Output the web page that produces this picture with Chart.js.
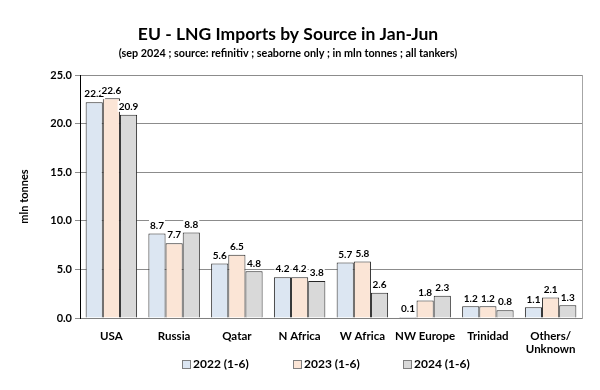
<!DOCTYPE html>
<html>
<head>
<meta charset="utf-8">
<script src="https://cdn.jsdelivr.net/npm/chart.js@4"></script>
<style>
  html, body { margin: 0; padding: 0; background: #fff; }
  #wrap { width: 600px; height: 390px; }
</style>
</head>
<body>
<div id="wrap"><canvas id="lng_chart" width="600" height="390"></canvas></div>
<script>
/* EU LNG imports by source, Jan-Jun */

const sources = ['USA', 'Russia', 'Qatar', 'N Africa', 'W Africa', 'NW Europe', 'Trinidad', ['Others/', 'Unknown']];

const imports_2022 = [22.2, 8.7, 5.6, 4.2, 5.7, 0.1, 1.2, 1.1];
const imports_2023 = [22.6, 7.7, 6.5, 4.2, 5.8, 1.8, 1.2, 2.1];
const imports_2024 = [20.9, 8.8, 4.8, 3.8, 2.6, 2.3, 0.8, 1.3];

const series_names = ['2022 (1-6)', '2023 (1-6)', '2024 (1-6)'];

const chart_title = 'EU - LNG Imports by Source in Jan-Jun';
const chart_subtitle = '(sep 2024 ; source: refinitiv ; seaborne only ; in mln tonnes ; all tankers)';

const y_min = 0;
const y_max = 25;
const y_step = 5;

const font_family = 'Lato, "Open Sans", sans-serif';

// Title and subtitle, centred a little left of the canvas middle like the original
const headerText = {
    id: 'headerText',
    afterDraw(chart) {
        const ctx = chart.ctx;
        ctx.save();
        ctx.fillStyle = '#000';
        ctx.textAlign = 'center';
        ctx.textBaseline = 'middle';
        ctx.font = 'bold 17.5px ' + font_family;
        ctx.fillText(chart_title, 288, 34);
        ctx.font = 'bold 10.8px ' + font_family;
        ctx.fillText(chart_subtitle, 288, 54);
        ctx.restore();
    }
};

// Legend row under the axis, spaced out like the original
const legendRow = {
    id: 'legendRow',
    afterDraw(chart) {
        const ctx = chart.ctx;
        const starts = [182, 293, 403];
        ctx.save();
        ctx.font = 'bold 12px ' + font_family;
        ctx.textBaseline = 'middle';
        ctx.textAlign = 'left';
        chart.data.datasets.forEach((dataset, i) => {
            const x = starts[i];
            const y = 364;
            ctx.fillStyle = dataset.backgroundColor;
            ctx.fillRect(x, y - 4, 8, 8);
            ctx.strokeStyle = '#7f7f7f';
            ctx.lineWidth = 1;
            ctx.strokeRect(x + 0.5, y - 3.5, 8, 8);
            ctx.fillStyle = '#000';
            ctx.fillText(dataset.label, x + 11, y);
        });
        ctx.restore();
    }
};

// Draws the value above each bar with a white box behind it
const valueLabels = {
    id: 'valueLabels',
    afterDatasetsDraw(chart) {
        const ctx = chart.ctx;
        ctx.save();
        ctx.font = 'bold 10px ' + font_family;
        ctx.textAlign = 'center';
        ctx.textBaseline = 'bottom';
        chart.data.datasets.forEach((dataset, i) => {
            const meta = chart.getDatasetMeta(i);
            meta.data.forEach((bar, j) => {
                const text = dataset.data[j].toFixed(1);
                const w = ctx.measureText(text).width;
                const y = bar.y - 3;
                ctx.fillStyle = '#fff';
                ctx.fillRect(bar.x - w / 2 - 1, y - 11, w + 2, 11);
                ctx.fillStyle = '#000';
                ctx.fillText(text, bar.x, y);
            });
        });
        ctx.restore();
    }
};

const lng_data = {
    labels: sources,
    datasets: [{
        label: series_names[0],
        data: imports_2022,
        backgroundColor: '#dce6f2',
        borderColor: '#262626',
        borderWidth: 1
    }, {
        label: series_names[1],
        data: imports_2023,
        backgroundColor: '#fbe5d6',
        borderColor: '#262626',
        borderWidth: 1
    }, {
        label: series_names[2],
        data: imports_2024,
        backgroundColor: '#d9d9d9',
        borderColor: '#262626',
        borderWidth: 1
    }]
};

const lng_config = {
    type: 'bar',
    data: lng_data,
    plugins: [valueLabels, headerText, legendRow],
    options: {
        responsive: false,
        animation: false,
        layout: {
            padding: {left: 14, right: 18, top: 75, bottom: 36}
        },
        datasets: {
            bar: {
                barPercentage: 1,
                categoryPercentage: 0.82
            }
        },
        plugins: {
            title: {display: false},
            legend: {display: false},
            tooltip: {enabled: false}
        },
        scales: {
            x: {
                afterFit: (scale) => { scale.height = 36; },
                grid: {display: false},
                border: {color: '#808080'},
                ticks: {
                    color: '#000',
                    maxRotation: 0,
                    autoSkip: false,
                    padding: 3,
                    font: {family: font_family, size: 11.5, weight: 'bold'}
                }
            },
            y: {
                min: y_min,
                max: y_max,
                afterFit: (scale) => { scale.width = 66; },
                border: {color: '#000'},
                grid: {color: '#8c8c8c', tickLength: 5},
                ticks: {
                    stepSize: y_step,
                    color: '#000',
                    font: {family: font_family, size: 11, weight: 'bold'},
                    callback: (v) => v.toFixed(1)
                },
                title: {
                    display: true,
                    text: 'mln tonnes',
                    color: '#000',
                    font: {family: font_family, size: 11, weight: 'bold'},
                    padding: {bottom: 0}
                }
            },
            y_right: {
                position: 'right',
                min: y_min,
                max: y_max,
                afterFit: (scale) => { scale.width = 0; },
                border: {color: '#a6a6a6'},
                grid: {display: false},
                ticks: {display: false}
            }
        }
    }
};

const lngChart = new Chart(
    document.getElementById('lng_chart'),
    lng_config
);
</script>
</body>
</html>
